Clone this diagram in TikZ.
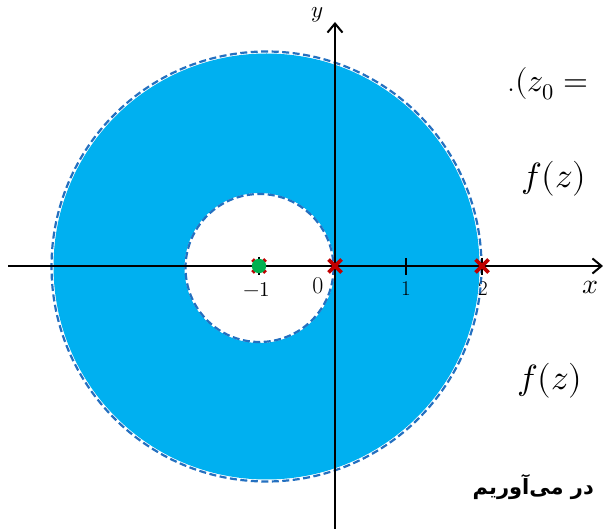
\documentclass[tikz,border=0pt]{standalone}
\usepackage{fontspec}
\usepackage{unicode-math}
\setmathfont{Latin Modern Math}
\usetikzlibrary{arrows.meta}
\newfontfamily\arabicfont[Script=Arabic]{DejaVu Sans}
\TeXXeTstate=1
\definecolor{fillblue}{HTML}{00B0F0}
\definecolor{dashblue}{HTML}{2470C0}
\definecolor{xred}{HTML}{C00000}
\definecolor{dotgreen}{HTML}{00B050}
\tikzset{
  axisline/.style={line width=2pt, -{Straight Barb[length=9pt,width=15pt,line width=2pt]}},
  dashcirc/.style={draw=dashblue, line width=2.2pt, dash pattern=on 7pt off 3.5pt},
  redcross/.style={draw=xred, line width=3.6pt},
  ticklbl/.style={font=\fontsize{21}{23}\selectfont, inner sep=0pt},
  mathtxt/.style={font=\fontsize{35}{38}\selectfont, inner sep=0pt, anchor=base west},
}
\begin{document}
\begin{tikzpicture}[x=1pt,y=-1pt]
\useasboundingbox (0,0) rectangle (603,529);
\clip (0,0) rectangle (603,529);
% annulus fill
\fill[fillblue, even odd rule] (266.5,266.5) circle (213) (259.5,268) circle (75);
% dashed boundaries
\draw[dashcirc] (266.5,266.5) circle (215);
\draw[dashcirc] (259.5,268) circle (74);
% axes
\coordinate (xs) at (8,266);
\coordinate (xe) at (603,266);
\coordinate (ys) at (335,529);
\coordinate (ye) at (335,22);
\draw[axisline] (xs) -- (xe);
\draw[axisline] (ys) -- (ye);
% ticks
\draw[line width=1.3pt] (406,258) -- (406,275);
\draw[line width=1.3pt] (482,258) -- (482,275);
\draw[line width=1.3pt] (259,257) -- (259,275);
% labels
\node[ticklbl] (lm1) at (257,290) {$-1$};
\node[ticklbl, font=\fontsize{24}{26}\selectfont] (l0) at (318,286) {0};
\node[ticklbl] (l1) at (406,289) {1};
\node[ticklbl] (l2) at (483,289) {2};
\node[inner sep=0pt, font=\fontsize{28}{30}\selectfont] (lx) at (591,287) {$x$};
\node[inner sep=0pt, font=\fontsize{23}{25}\selectfont] (ly) at (317,15) {$y$};
% red crosses
\foreach \cx/\nm in {259/cm1, 335/c0, 482/c2}{
  \coordinate (\nm) at (\cx,266);
  \draw[redcross] ([shift={(-6.5,-6.5)}]\nm) -- ([shift={(6.5,6.5)}]\nm);
  \draw[redcross] ([shift={(-6.5,6.5)}]\nm) -- ([shift={(6.5,-6.5)}]\nm);
}
% green dot
\fill[dotgreen] (259,266) circle (7.2);
% text fragments
\node[mathtxt, font=\fontsize{32}{36}\selectfont] (t1) at (507,92) {.$(z_0 =$};
\node[mathtxt] (t2) at (521,188) {$f(z)$};
\node[mathtxt] (t3) at (517,390) {$f(z)$};
\node[inner sep=0pt, anchor=base east, font=\arabicfont\bfseries\fontsize{21}{24}\selectfont] (t4) at (594,494) {\beginR در می‌آوریم\endR};
\end{tikzpicture}
\end{document}
